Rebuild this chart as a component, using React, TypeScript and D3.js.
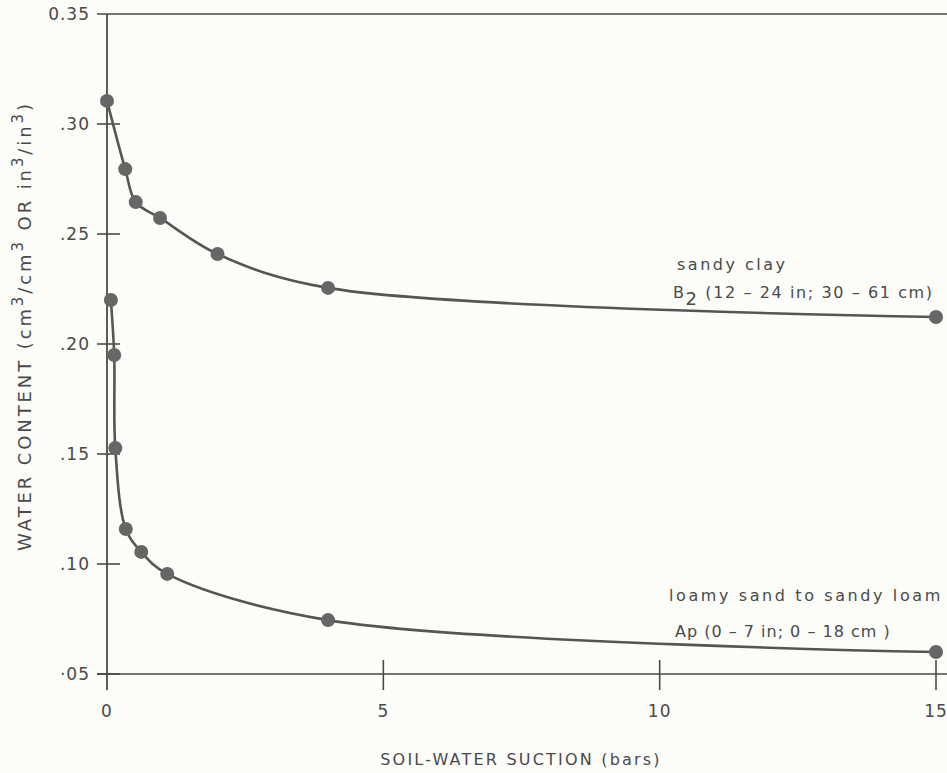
import React from "react";
import * as d3 from "d3";

// Soil-water retention: water content vs. suction
const sandyClaySuction = [0, 0.33, 0.52, 0.96, 2, 4, 15];
const sandyClayWater = [0.3105, 0.2795, 0.2645, 0.2573, 0.2409, 0.2255, 0.2123];

const loamySuction = [0.07, 0.13, 0.15, 0.34, 0.62, 1.09, 4, 15];
const loamyWater = [0.22, 0.195, 0.1527, 0.1159, 0.1055, 0.0955, 0.0745, 0.06];

const xTicks = [0, 5, 10, 15];
const xTickLabels = ["0", "5", "10", "15"];
const yTicks = [0.35, 0.3, 0.25, 0.2, 0.15, 0.1, 0.05];
const yTickLabels = ["0.35", ".30", ".25", ".20", ".15", ".10", "·05"];

const W = 947;
const H = 773;
const INK = "#4a4a4a";
const FONT = "'DejaVu Sans', 'Liberation Sans', sans-serif";

export default function App() {
  const x = d3.scaleLinear().domain([0, 15]).range([107, 936]);
  const y = d3.scaleLinear().domain([0.05, 0.35]).range([674, 14]);

  const line = d3
    .line<[number, number]>()
    .x((d) => x(d[0]))
    .y((d) => y(d[1]))
    .curve(d3.curveCatmullRom.alpha(0.5));

  const clay: [number, number][] = sandyClaySuction.map((s, i) => [s, sandyClayWater[i]]);
  const loamy: [number, number][] = loamySuction.map((s, i) => [s, loamyWater[i]]);

  const x0 = x(0);
  const yBottom = y(0.05);

  return (
    <svg
      width={W}
      height={H}
      style={{ position: "absolute", left: 0, top: 0, background: "#fcfcf9" }}
      fontFamily={FONT}
    >
      <rect x={0} y={0} width={W} height={H} fill="#fcfcf9" />

      {/* frame lines */}
      <line x1={97} x2={W} y1={y(0.35)} y2={y(0.35)} stroke={INK} strokeWidth={1.6} />
      <line x1={x0} x2={x0} y1={y(0.35)} y2={yBottom + 16} stroke={INK} strokeWidth={1.8} />
      <line x1={97} x2={W} y1={yBottom} y2={yBottom} stroke={INK} strokeWidth={1.6} />

      {/* y ticks */}
      {yTicks.map((t, i) => (
        <g key={"yt" + i}>
          {i > 0 && (
            <line x1={97} x2={120} y1={y(t)} y2={y(t)} stroke={INK} strokeWidth={1.6} />
          )}
          <text
            x={90}
            y={y(t)}
            textAnchor="end"
            dominantBaseline="central"
            fontSize={17}
            fill={INK}
            letterSpacing={1}
          >
            {yTickLabels[i]}
          </text>
        </g>
      ))}

      {/* x ticks */}
      {xTicks.map((t, i) => (
        <g key={"xt" + i}>
          {i > 0 && (
            <line x1={x(t)} x2={x(t)} y1={yBottom - 14} y2={yBottom + 16} stroke={INK} strokeWidth={1.6} />
          )}
          <text x={x(t)} y={717} textAnchor="middle" fontSize={17} fill={INK} letterSpacing={1}>
            {xTickLabels[i]}
          </text>
        </g>
      ))}

      {/* axis titles */}
      <text x={521} y={765} textAnchor="middle" fontSize={16} fill={INK} letterSpacing={2.2}>
        SOIL-WATER SUCTION (bars)
      </text>
      <text
        transform="translate(31,326) rotate(-90)"
        textAnchor="middle"
        fontSize={18}
        fill={INK}
        letterSpacing={2.9}
      >
        WATER CONTENT (cm
        <tspan dy={-8} fontSize={15}>3</tspan>
        <tspan dy={8}>/cm</tspan>
        <tspan dy={-8} fontSize={15}>3</tspan>
        <tspan dy={8}> OR in</tspan>
        <tspan dy={-8} fontSize={15}>3</tspan>
        <tspan dy={8}>/in</tspan>
        <tspan dy={-8} fontSize={15}>3</tspan>
        <tspan dy={8}>)</tspan>
      </text>

      {/* curves */}
      <path d={line(clay) ?? ""} fill="none" stroke="#555" strokeWidth={2.6} />
      <path d={line(loamy) ?? ""} fill="none" stroke="#555" strokeWidth={2.6} />

      {clay.map((d, i) => (
        <circle key={"c" + i} cx={x(d[0])} cy={y(d[1])} r={7} fill="#666" />
      ))}
      {loamy.map((d, i) => (
        <circle key={"l" + i} cx={x(d[0])} cy={y(d[1])} r={7} fill="#666" />
      ))}

      {/* curve labels */}
      <text x={677} y={270} fontSize={16} fill={INK} letterSpacing={2.5}>
        sandy clay
      </text>
      <text x={673} y={298} fontSize={16} fill={INK} letterSpacing={1.6}>
        B<tspan dy={7} fontSize={18}>2</tspan>
        <tspan dy={-7}> (12 – 24 in; 30 – 61 cm)</tspan>
      </text>
      <text x={669} y={601} fontSize={16} fill={INK} letterSpacing={2.6}>
        loamy sand to sandy loam
      </text>
      <text x={675} y={637} fontSize={16} fill={INK} letterSpacing={1}>
        Ap (0 – 7 in; 0 – 18 cm )
      </text>
    </svg>
  );
}
